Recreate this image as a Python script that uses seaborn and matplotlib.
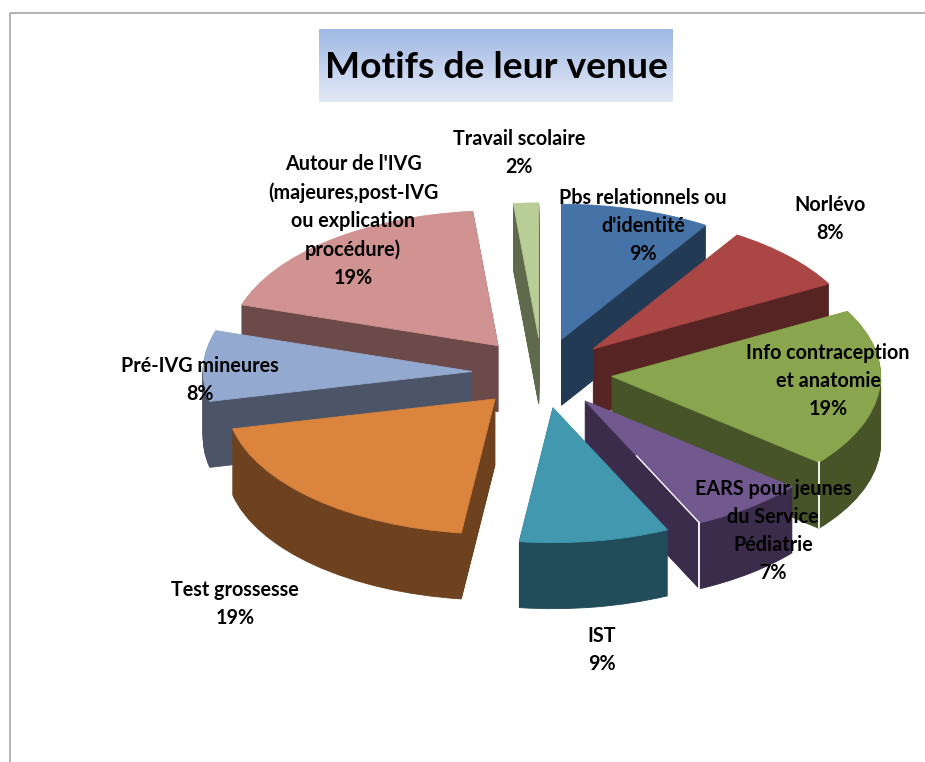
import matplotlib
matplotlib.use("Agg")
import matplotlib.pyplot as plt
from matplotlib.colors import LinearSegmentedColormap
from matplotlib.lines import Line2D
import numpy as np
import seaborn as sns

# data
categories = ["Pbs relationnels ou\nd'identité", "Norlévo", "Info contraception\net anatomie",
              "EARS pour jeunes\ndu Service\nPédiatrie", "IST", "Test grossesse", "Pré-IVG mineures",
              "Autour de l'IVG\n(majeures,post-IVG\nou explication\nprocédure)", "Travail scolaire"]
values = [9, 8, 19, 7, 9, 19.45, 8.45, 18.6, 1.5]

# styles
top_colors = ["#4573A7", "#AA4643", "#89A54E", "#71588F", "#4198AF", "#DB843D", "#93A9CF", "#D19392", "#B9CD96"]
side_colors = ["#233A55", "#552423", "#465427", "#3A2C4A", "#214C5A", "#6F421F", "#4C5568", "#6B4A49", "#5E6A4B"]
draw_order = [8, 0, 7, 1, 6, 2, 5, 3, 4]   # back to front
label_pos = [(643, 226), (830, 219), (828, 381), (773, 531), (602, 650), (235, 604), (200, 380), (353, 221), (519, 153)]

W, H = 925, 762
CX, CY = 542, 373      # pie centre in pixels
RX, RY = 269, 135      # radius on screen
DEPTH = 66             # height of the slices in pixels
EXPLODE = 0.26

sns.set_theme(style="white")
plt.rcParams["font.family"] = ["Lato", "DejaVu Sans"]

fig = plt.figure(figsize=(W / 100, H / 100), dpi=100, facecolor="white")
ax = fig.add_axes([0, 0, 1, 1])


def draw_pie(offset, colors, base_z):
    wedges, _ = ax.pie(values, colors=colors, explode=[EXPLODE] * len(values), startangle=90,
                       counterclock=False, center=(0, -offset / RY), radius=1,
                       wedgeprops={"linewidth": 0.6})
    for rank, idx in enumerate(draw_order):
        wedges[idx].set_edgecolor(colors[idx])
        wedges[idx].set_zorder(rank * 1000 + base_z)


# sides: the same pie stacked downwards, top face last
for d in range(DEPTH, 0, -1):
    draw_pie(d, side_colors, DEPTH - d)
draw_pie(0, top_colors, DEPTH + 1)


# white highlight on the front corner of a slice
def corner(idx, at_end, with_radius=False):
    shares = np.cumsum(values) / np.sum(values) * 2 * np.pi
    start = shares[idx - 1] if idx else 0
    mid = (start + shares[idx]) / 2
    ang = shares[idx] if at_end else start
    ox, oy = EXPLODE * np.sin(mid), EXPLODE * np.cos(mid)
    px, py = ox + np.sin(ang), oy + np.cos(ang)
    z = draw_order.index(idx) * 1000 + DEPTH + 2
    ax.plot([px, px], [py, py - DEPTH / RY], color="white", lw=1.3, zorder=z)
    if with_radius:
        ax.plot([ox + 0.45 * np.sin(ang), px], [oy + 0.45 * np.cos(ang), py], color="white", lw=1.0, zorder=z)


corner(2, True)
corner(3, True, with_radius=True)

# squash the circle, 1 unit = RX px across and RY px down
ax.set_aspect("auto")
ax.set_xlim(-CX / RX, (W - CX) / RX)
ax.set_ylim((CY - H) / RY, CY / RY)
ax.axis("off")

# labels
for cat, val, (x, y) in zip(categories, values, label_pos):
    ax.text(x / W, 1 - y / H, f"{cat}\n{val:.0f}%", transform=ax.transAxes, ha="center", va="center",
            fontsize=14.2, fontweight="bold", color="black", linespacing=1.5, zorder=20000)

# title box with gradient
tax = fig.add_axes([319 / W, 1 - 102 / H, 354 / W, 73 / H], zorder=5)
cmap = LinearSegmentedColormap.from_list("title", ["#A0B8E4", "#E2E9F6"])
tax.imshow(np.linspace(0, 1, 73).reshape(-1, 1), aspect="auto", cmap=cmap)
tax.axis("off")
fig.text(496 / W, 1 - 68 / H, "Motifs de leur venue", ha="center", va="center",
         fontsize=26.8, fontweight="bold", color="black", zorder=10)

# chart frame, only top and left show
fig.add_artist(Line2D([10 / W, 10 / W, 1], [0, 1 - 13 / H, 1 - 13 / H], color="#A6A6A6", lw=1.2))

fig.savefig("out.png", dpi=100)
